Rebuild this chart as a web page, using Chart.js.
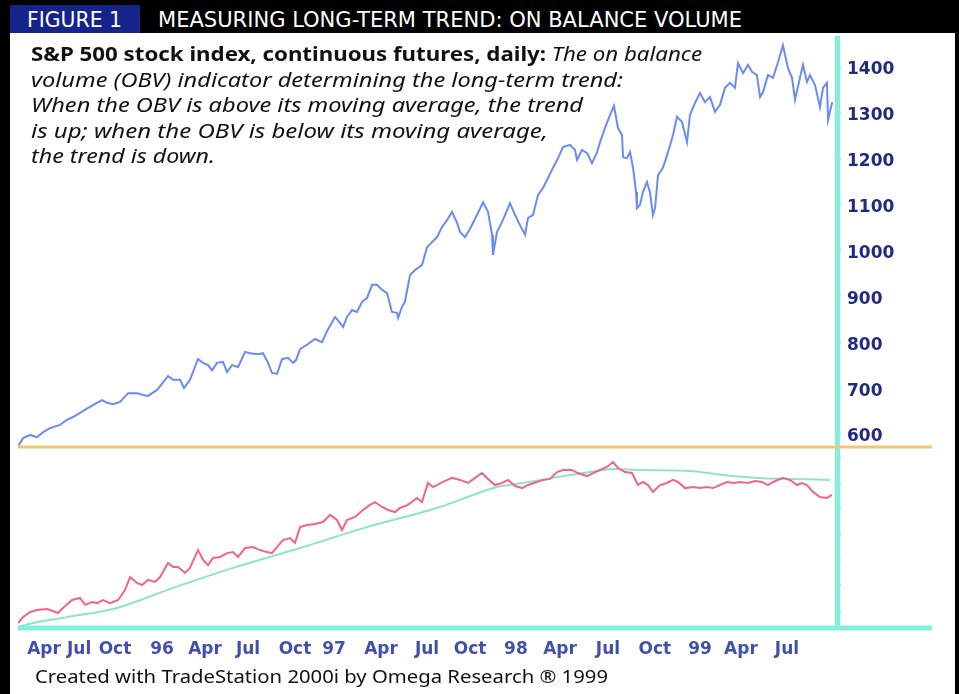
<!DOCTYPE html>
<html><head><meta charset="utf-8">
<script src="https://cdn.jsdelivr.net/npm/chart.js@4.4.0/dist/chart.umd.min.js"></script>
<style>
html,body{margin:0;padding:0;background:#fff;}
#wrap{position:relative;width:959px;height:694px;overflow:hidden;background:#fff;}
#c{position:absolute;left:0;top:0;}
.t{position:absolute;white-space:nowrap;transform-origin:0 50%;}
#hdr{position:absolute;left:0;top:0;width:959px;height:33px;background:#000;}
#fig{position:absolute;left:10px;top:5px;width:130px;height:28px;background:#15248a;}
#lb{position:absolute;left:0;top:0;width:10px;height:694px;background:#000;}
#rb{position:absolute;left:955px;top:0;width:4px;height:694px;background:#000;}
.hd{color:#fff;font-family:"Liberation Sans Narrow","DejaVu Sans Condensed","DejaVu Sans",sans-serif;font-size:21px;line-height:24px;}
.an{font-family:"Noto Sans","Open Sans",sans-serif;font-size:19px;line-height:25px;color:#111;}
.an i{font-style:italic;font-weight:400;}
.an b{font-weight:700;}
.ft{font-family:"Noto Sans","Open Sans",sans-serif;font-size:18px;line-height:22px;color:#111;}
</style></head>
<body><div id="wrap">
<canvas id="c" width="959" height="694"></canvas>
<div id="hdr"></div><div id="fig"></div><div id="lb"></div><div id="rb"></div>
<span class="t hd" id="h1" style="left:27px;top:8px;">FIGURE 1</span>
<span class="t hd" id="h2" style="left:158px;top:8px;">MEASURING LONG-TERM TREND: ON BALANCE VOLUME</span>
<span class="t an" id="a1" style="left:31px;top:42px;"><b>S&amp;P 500 stock index, continuous futures, daily:</b> <i>The on balance</i></span>
<span class="t an" id="a2" style="left:31px;top:68px;"><i>volume (OBV) indicator determining the long-term trend:</i></span>
<span class="t an" id="a3" style="left:31px;top:93px;"><i>When the OBV is above its moving average, the trend</i></span>
<span class="t an" id="a4" style="left:31px;top:119px;"><i>is up; when the OBV is below its moving average,</i></span>
<span class="t an" id="a5" style="left:31px;top:144px;"><i>the trend is down.</i></span>
<span class="t ft" id="f1" style="left:35px;top:665px;">Created with TradeStation 2000i by Omega Research ® 1999</span>
</div>
<script>
// ---- data (x = months since 1 Jan 1995) ----
const priceMonths = [
 2.36,2.70,3.17,3.63,4.04,4.50,5.17,5.64,6.04,6.51,
 7.05,7.65,7.99,8.32,8.72,9.19,9.73,10.33,10.73,11.06,
 11.67,12.40,12.74,13.21,13.47,13.87,14.41,14.75,15.08,15.35,
 15.68,16.08,16.35,16.69,17.09,17.56,17.89,18.43,18.76,19.10,
 19.36,19.70,20.03,20.43,20.77,20.97,21.24,21.77,22.24,22.71,
 23.04,23.58,23.91,24.12,24.38,24.72,25.05,25.39,25.72,26.06,
 26.39,26.73,27.06,27.39,27.73,27.80,28.06,28.26,28.60,28.93,
 29.40,29.74,30.07,30.41,30.74,31.08,31.41,31.75,31.95,32.28,
 32.62,33.08,33.49,33.82,34.09,34.15,34.42,34.76,34.96,35.29,
 35.63,35.96,36.30,36.50,36.83,37.17,37.50,37.84,38.17,38.51,
 38.84,39.31,39.64,39.78,40.11,40.45,40.78,41.12,41.32,41.65,
 41.99,42.25,42.52,42.79,42.86,43.12,43.32,43.53,43.73,43.79,
 43.99,44.19,44.46,44.66,44.86,45.00,45.20,45.53,45.87,46.20,
 46.47,46.80,47.14,47.34,47.67,48.01,48.34,48.68,49.01,49.35,
 49.68,50.02,50.35,50.55,50.89,51.22,51.49,51.82,52.03,52.23,
 52.56,52.90,53.23,53.56,53.90,54.17,54.37,54.70,54.90,55.17,
 55.37,55.71,56.04,56.24,56.51,56.58,56.86];
const priceValues = [
 573,591,598,593,604,613,620,631,637,646,
 657,668,674,668,665,670,689,689,685,683,
 696,726,718,718,700,718,763,755,750,739,
 755,757,735,750,746,779,776,774,776,755,
 733,731,763,766,755,761,785,796,807,800,
 824,855,842,833,855,870,866,888,896,925,
 925,914,907,866,864,853,877,888,946,957,
 968,1007,1018,1029,1051,1066,1084,1060,1040,1029,
 1047,1077,1105,1084,1034,990,1040,1062,1077,1103,
 1077,1055,1034,1071,1077,1121,1136,1158,1180,1201,
 1225,1230,1219,1197,1219,1212,1190,1214,1236,1267,
 1295,1315,1267,1251,1203,1201,1214,1180,1127,1092,
 1099,1127,1149,1127,1077,1092,1164,1180,1214,1251,
 1291,1280,1236,1295,1321,1343,1323,1334,1302,1317,
 1354,1365,1354,1408,1386,1404,1389,1382,1334,1345,
 1382,1376,1410,1447,1397,1376,1328,1376,1404,1367,
 1382,1360,1312,1354,1365,1284,1323];
const obvMonths = [
 2.36,2.70,3.17,3.63,4.30,4.70,5.04,5.37,5.98,6.51,
 6.85,7.32,7.65,8.05,8.52,9.06,9.52,9.86,10.33,10.66,
 11.06,11.53,11.87,12.40,12.74,13.07,13.54,13.87,14.41,14.75,
 15.08,15.41,15.88,16.35,16.75,17.09,17.56,18.09,18.56,19.03,
 19.36,19.70,20.10,20.57,20.90,21.24,21.71,22.24,22.78,23.25,
 23.71,24.05,24.38,24.92,25.45,25.92,26.26,26.73,27.13,27.60,
 27.93,28.46,29.07,29.40,29.80,30.14,30.81,31.41,31.95,32.48,
 32.82,33.42,33.82,34.29,34.76,35.16,35.63,36.10,36.50,37.10,
 37.50,37.97,38.44,38.84,39.44,39.84,40.45,40.85,41.32,41.78,
 42.19,42.52,42.99,43.46,43.86,44.19,44.53,44.86,45.33,45.80,
 46.20,46.54,47.01,47.54,48.01,48.48,48.88,49.35,49.82,50.22,
 50.69,51.22,51.69,52.16,52.56,52.89,53.56,54.03,54.50,54.83,
 55.17,55.57,56.04,56.51,56.84];
const obvValues = [
 0.53,0.76,0.96,1.04,1.08,1.00,0.92,1.12,1.43,1.51,
 1.24,1.35,1.31,1.43,1.31,1.43,1.82,2.33,2.10,2.02,
 2.22,2.14,2.33,2.88,2.73,2.73,2.49,2.69,3.39,3.00,
 2.80,3.08,3.12,3.27,3.31,3.12,3.47,3.51,3.39,3.31,
 3.27,3.51,3.78,3.86,3.67,4.29,4.37,4.41,4.49,4.77,
 4.57,4.18,4.57,4.69,4.96,5.16,5.27,5.08,4.96,4.88,
 5.04,5.16,5.43,5.27,6.02,5.86,6.06,6.22,6.14,6.02,
 6.16,6.41,6.18,5.94,6.02,6.14,5.90,5.82,5.94,6.06,
 6.14,6.18,6.45,6.53,6.53,6.41,6.29,6.41,6.53,6.65,
 6.84,6.61,6.45,6.41,5.94,6.06,5.94,5.67,5.94,6.02,
 6.14,6.06,5.82,5.86,5.82,5.86,5.82,5.94,6.06,6.02,
 6.06,6.02,6.10,6.06,5.94,6.06,6.22,6.14,5.94,6.02,
 5.94,5.67,5.47,5.43,5.55];
const maMonths = [2.36,3.37,5.64,8.99,12.33,16.75,21.24,25.72,30.61,32.82,34.42,36.16,38.44,40.65,42.19,43.99,47.34,49.55,51.82,54.03,56.71];
const maValues = [0.37,0.53,0.76,1.12,1.82,2.69,3.47,4.29,5.08,5.55,5.86,6.02,6.25,6.45,6.57,6.53,6.49,6.33,6.22,6.18,6.14];
const priceTicks = [600,700,800,900,1000,1100,1200,1300,1400];
const obvTicks = [1,2,3,4,5,6,7];
const dateTickAt = [4.10,6.45,8.85,12.00,14.88,17.76,20.90,23.51,26.66,29.74,32.62,35.69,38.64,41.85,44.99,48.01,50.75,53.83];
const dateTickLabels = ['Apr','Jul','Oct','96','Apr','Jul','Oct','97','Apr','Jul','Oct','98','Apr','Jul','Oct','99','Apr','Jul'];

const CYAN = '#80f2dc', ORANGE = '#f7c46c';
const pts = (xs, ys) => xs.map((x, i) => ({x, y: ys[i]}));

const frameLines = {
  id: 'frameLines',
  afterDraw(chart) {
    const {ctx, chartArea} = chart;
    const sep = chart.scales.obv.top;
    const ext = chartArea.right + 95;
    ctx.save();
    ctx.lineCap = 'butt';
    ctx.strokeStyle = ORANGE; ctx.lineWidth = 3;
    ctx.beginPath(); ctx.moveTo(chartArea.left, sep); ctx.lineTo(ext, sep); ctx.stroke();
    ctx.strokeStyle = CYAN; ctx.lineWidth = 5;
    ctx.beginPath(); ctx.moveTo(chartArea.left, chartArea.bottom); ctx.lineTo(ext, chartArea.bottom); ctx.stroke();
    ctx.restore();
  }
};

const yCommon = (extra) => Object.assign({
  position: 'right', stack: 'panels',
  border: {display: true, color: CYAN, width: 5},
  grid: {drawOnChartArea: false, drawTicks: true, tickLength: 4, color: CYAN, lineWidth: 2},
  afterFit(s) { s.width = 122; }
}, extra);

new Chart(document.getElementById('c'), {
  type: 'line',
  data: {
    datasets: [
      {label: 'S&P 500', data: pts(priceMonths, priceValues), yAxisID: 'price',
       borderColor: '#6a8cf2', borderWidth: 2, pointRadius: 0, tension: 0},
      {label: 'OBV', data: pts(obvMonths, obvValues), yAxisID: 'obv',
       borderColor: '#f2648f', borderWidth: 2, pointRadius: 0, tension: 0},
      {label: 'OBV average', data: pts(maMonths, maValues), yAxisID: 'obv',
       borderColor: '#8fe6bd', borderWidth: 2, pointRadius: 0, tension: 0.4, cubicInterpolationMode: 'monotone'}
    ]
  },
  options: {
    responsive: false, animation: false, devicePixelRatio: 1,
    layout: {padding: {left: 18, top: 38, right: 0, bottom: 36}},
    plugins: {legend: {display: false}, tooltip: {enabled: false}},
    scales: {
      x: {
        type: 'linear', min: 2.36, max: 57.18,
        border: {display: false},
        grid: {display: false},
        afterBuildTicks(s) { s.ticks = dateTickAt.map(v => ({value: v})); },
        afterFit(s) { s.height = 30; },
        ticks: {
          autoSkip: false, maxRotation: 0, padding: 3,
          color: '#4051ad', font: {family: 'DejaVu Sans', weight: 'bold', size: 17},
          callback: (v, i) => dateTickLabels[i]
        }
      },
      price: yCommon({
        min: 571.7, max: 1462.7, stackWeight: 409,
        afterBuildTicks(s) { s.ticks = priceTicks.map(v => ({value: v})); },
        ticks: {autoSkip: false, padding: 6, labelOffset: 3, color: '#1f2a80',
                font: {family: 'DejaVu Sans', weight: 'bold', size: 17},
                callback: v => String(v)}
      }),
      obv: yCommon({
        min: 0.333, max: 7.431, stackWeight: 181,
        afterBuildTicks(s) { s.ticks = obvTicks.map(v => ({value: v})); },
        ticks: {autoSkip: false, padding: 6, callback: () => ''}
      })
    }
  },
  plugins: [frameLines]
});

const targets = {h1: 95, h2: 584, a1: 671, a2: 592, a3: 552, a4: 517, a5: 184, f1: 573};
function fitAll() {
  for (const id in targets) {
    const el = document.getElementById(id);
    el.style.transform = 'none';
    const w = el.getBoundingClientRect().width;
    if (w > 0) el.style.transform = 'scaleX(' + (targets[id] / w) + ')';
  }
}
fitAll();
if (document.fonts && document.fonts.ready) document.fonts.ready.then(fitAll);
</script>
</body></html>
